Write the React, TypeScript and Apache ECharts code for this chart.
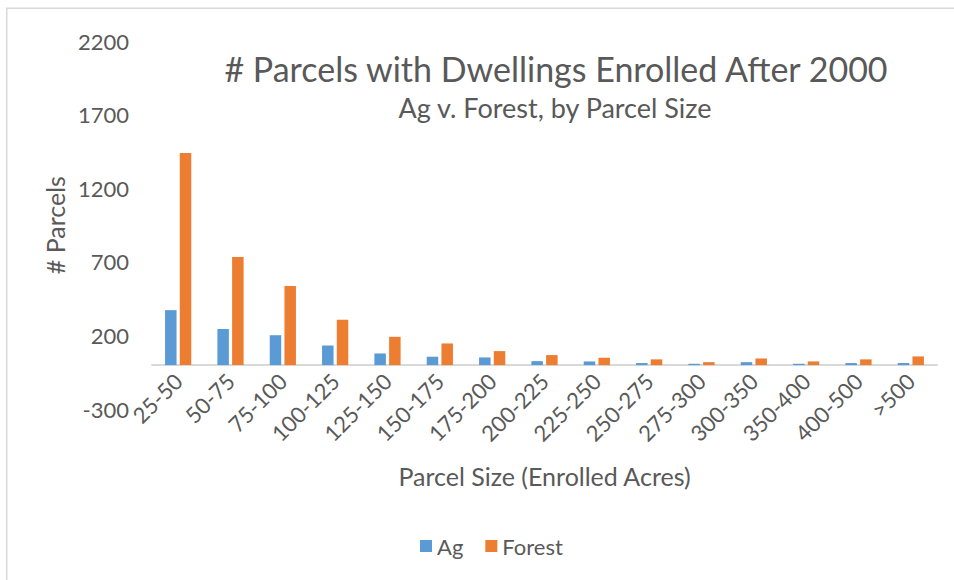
import React, { useEffect, useRef } from "react";
import * as echarts from "echarts";

const categories = ["25-50", "50-75", "75-100", "100-125", "125-150", "150-175", "175-200", "200-225", "225-250", "250-275", "275-300", "300-350", "350-400", "400-500", ">500"];
const agValues = [373, 245, 203, 133, 79, 57, 52, 27, 25, 14, 9, 20, 9, 14, 14];
const forestValues = [1440, 733, 537, 308, 192, 147, 95, 68, 50, 39, 20, 45, 25, 39, 59];
const yMin = -300;
const yMax = 2200;
const yStep = 500;

const FONT = "Lato";
const TXT = "#595959";

export default function App() {
  const ref = useRef<HTMLDivElement>(null);
  useEffect(() => {
    if (!ref.current) return;
    const chart = echarts.init(ref.current, undefined, { renderer: "svg" });
    // grid 0: data grid spanning 0..yMax (its bottom edge is the zero line)
    // grid 1: label grid spanning yMin..yMax for the tick labels
    const gridTop = 41;
    const gridBottomPx = 409.3; // pixel row of yMin
    const pxPerUnit = (gridBottomPx - gridTop) / (yMax - yMin);
    const zeroPx = gridTop + yMax * pxPerUnit;
    chart.setOption({
      animation: false,
      backgroundColor: "#ffffff",
      textStyle: { fontFamily: FONT, color: TXT },
      title: [
        {
          text: "# Parcels with Dwellings Enrolled After 2000",
          left: 551,
          top: 46,
          textAlign: "center",
          textStyle: { fontFamily: FONT, fontSize: 34, fontWeight: "normal", color: TXT },
        },
        {
          text: "Ag v. Forest, by Parcel Size",
          left: 550,
          top: 89,
          textAlign: "center",
          textStyle: { fontFamily: FONT, fontSize: 27, fontWeight: "normal", color: TXT },
        },
      ],
      legend: {
        left: 415,
        top: 530,
        itemWidth: 12,
        itemHeight: 12,
        itemGap: 22,
        icon: "rect",
        textStyle: { fontFamily: FONT, fontSize: 22, color: TXT },
        data: ["Ag", "Forest"],
      },
      grid: [
        { left: 152, right: 17, top: gridTop, bottom: 580 - zeroPx, containLabel: false },
        { left: 152, right: 17, top: gridTop, bottom: 580 - gridBottomPx, containLabel: false },
      ],
      xAxis: [
        {
          type: "category",
          gridIndex: 0,
          data: categories,
          name: "Parcel Size (Enrolled Acres)",
          nameLocation: "middle",
          nameGap: 98,
          nameTextStyle: { fontFamily: FONT, fontSize: 25, color: TXT },
          axisLine: { lineStyle: { color: "#d9d9d9", width: 2 } },
          axisTick: { show: false },
          axisLabel: { rotate: 45, margin: 12, interval: 0, fontFamily: FONT, fontSize: 22, color: TXT },
        },
        {
          type: "category",
          gridIndex: 1,
          data: categories,
          show: false,
        },
      ],
      yAxis: [
        {
          type: "value",
          gridIndex: 0,
          min: 0,
          max: yMax,
          axisLine: { show: false },
          axisTick: { show: false },
          axisLabel: { show: false },
          splitLine: { show: false },
        },
        {
          type: "value",
          gridIndex: 1,
          min: 0,
          max: yMax - yMin,
          interval: yStep,
          name: "# Parcels",
          nameLocation: "middle",
          nameGap: 85,
          nameTextStyle: { fontFamily: FONT, fontSize: 25, color: TXT },
          axisLine: { show: false },
          axisTick: { show: false },
          splitLine: { show: false },
          axisLabel: {
            margin: 23,
            fontFamily: FONT,
            fontSize: 22,
            color: TXT,
            formatter: (v: number) => String(v + yMin),
          },
        },
      ],
      series: [
        {
          name: "Ag",
          type: "bar",
          xAxisIndex: 0,
          yAxisIndex: 0,
          data: agValues,
          barWidth: 11.5,
          barGap: "28%",
          itemStyle: { color: "#5B9BD5" },
        },
        {
          name: "Forest",
          type: "bar",
          xAxisIndex: 0,
          yAxisIndex: 0,
          data: forestValues,
          barWidth: 11.5,
          barGap: "28%",
          itemStyle: { color: "#ED7D31" },
        },
      ],
      graphic: [
        {
          type: "rect",
          shape: { x: 6.75, y: 8.25, width: 1000, height: 1000 },
          style: { fill: "none", stroke: "#d9d9d9", lineWidth: 1.5 },
          silent: true,
        },
      ],
    });
    return () => chart.dispose();
  }, []);
  return <div ref={ref} style={{ position: "fixed", left: 0, top: 0, width: 954, height: 580 }} />;
}
